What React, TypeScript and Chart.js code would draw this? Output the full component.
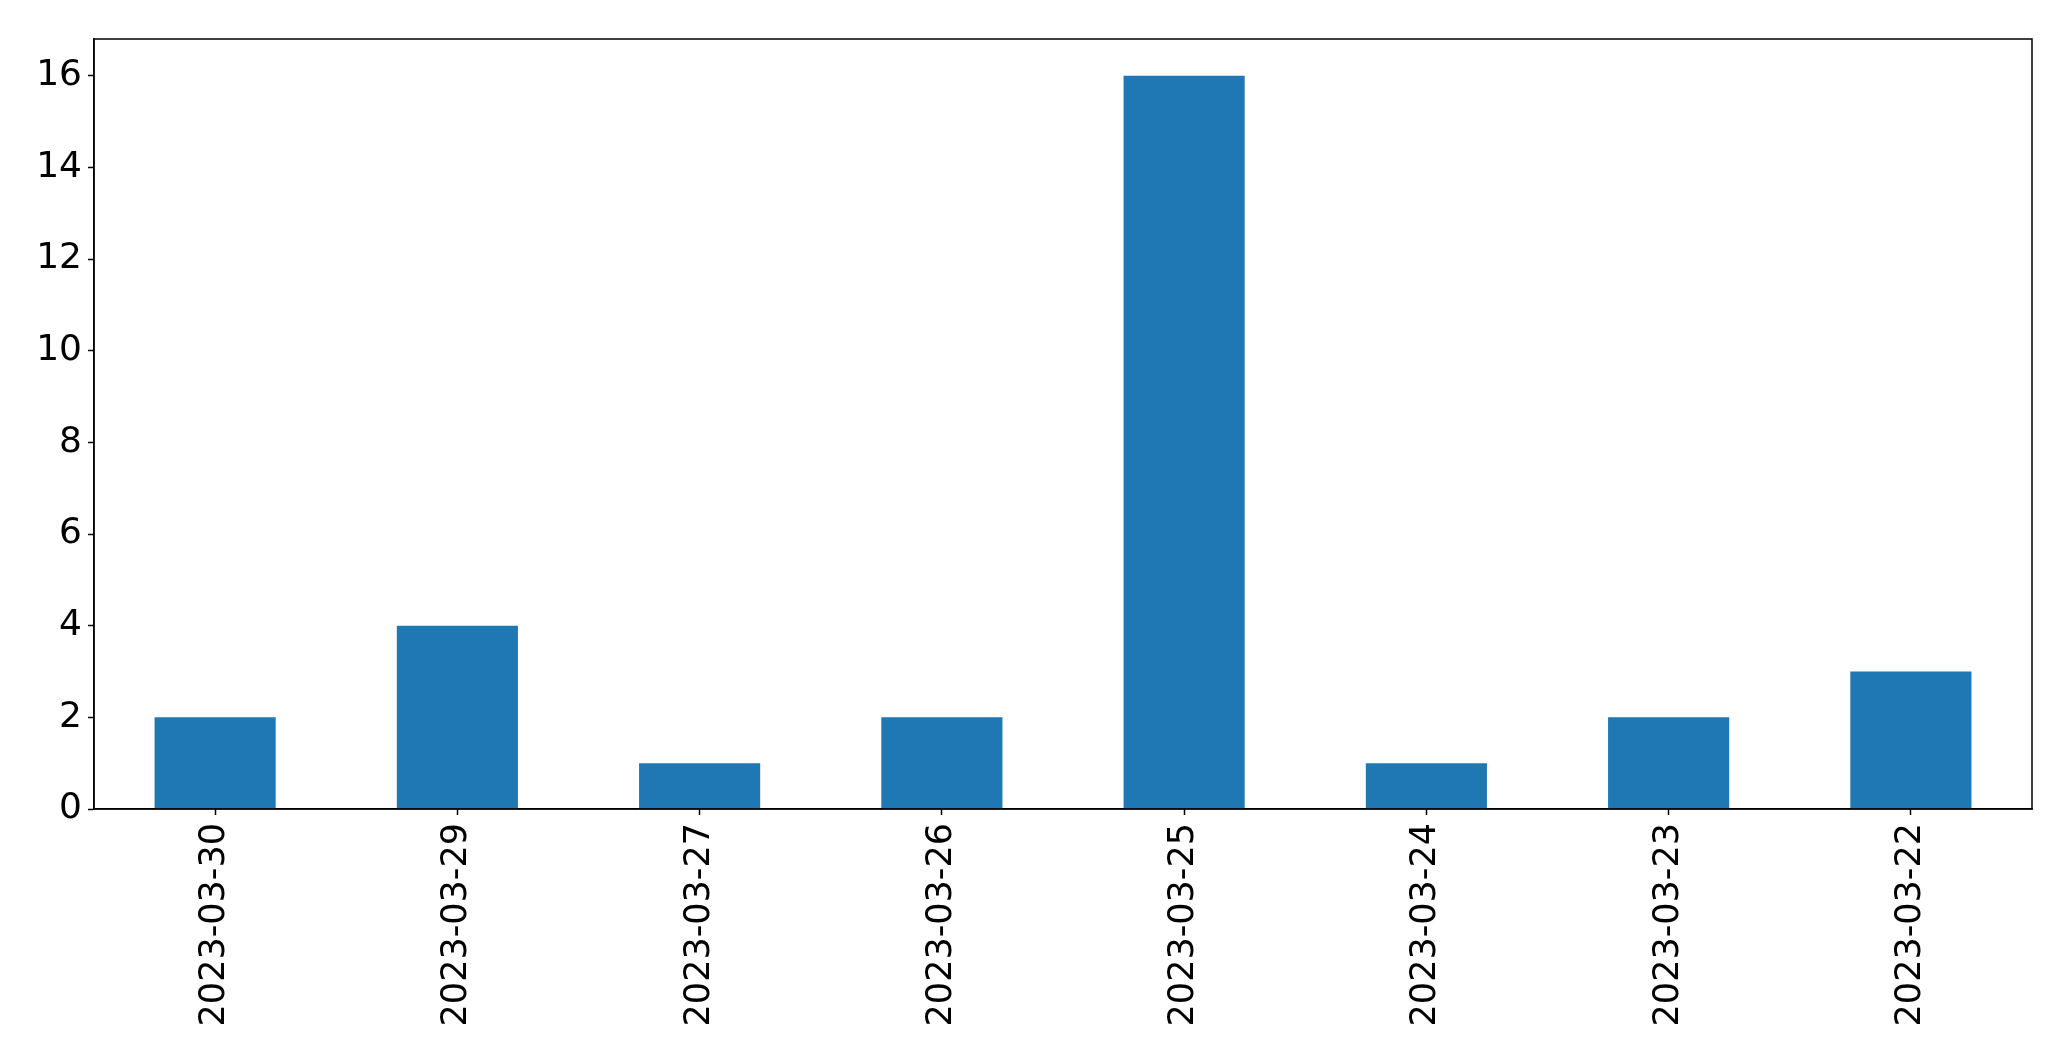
import React, { useEffect, useRef } from "react";
import { Chart, registerables } from "chart.js";

Chart.register(...registerables);

const categories: string[] = [
  "2023-03-30",
  "2023-03-29",
  "2023-03-27",
  "2023-03-26",
  "2023-03-25",
  "2023-03-24",
  "2023-03-23",
  "2023-03-22",
];
const counts: number[] = [2, 4, 1, 2, 16, 1, 2, 3];
const yTickStep = 2;
const yMax = 16.8;

const W = 2071;
const H = 1061;
const FONT = "'DejaVu Sans', sans-serif";

const frame = {
  id: "frame",
  afterDraw(chart: any) {
    const { ctx, chartArea } = chart;
    ctx.save();
    ctx.strokeStyle = "#000";
    ctx.lineWidth = 1.5;
    ctx.strokeRect(
      chartArea.left,
      chartArea.top,
      chartArea.right - chartArea.left,
      chartArea.bottom - chartArea.top
    );
    ctx.restore();
  },
};

export default function App() {
  const ref = useRef<HTMLCanvasElement | null>(null);
  useEffect(() => {
    if (!ref.current) return;
    const chart = new Chart(ref.current, {
      type: "bar",
      data: {
        labels: categories,
        datasets: [
          {
            data: counts,
            backgroundColor: "#1f77b4",
            borderWidth: 0,
            categoryPercentage: 1,
            barPercentage: 0.5,
          },
        ],
      },
      options: {
        animation: false,
        responsive: false,
        devicePixelRatio: 1,
        layout: { padding: { left: 0, top: 39, right: 39, bottom: 0 } },
        plugins: {
          legend: { display: false },
          tooltip: { enabled: false },
          title: { display: false },
        },
        scales: {
          x: {
            grid: {
              display: true,
              offset: false,
              drawOnChartArea: false,
              drawTicks: true,
              tickLength: 6,
              tickColor: "#000",
              tickWidth: 1.5,
            },
            border: { display: true, color: "#000", width: 1.5 },
            ticks: {
              color: "#000",
              font: { family: FONT, size: 35 },
              minRotation: 90,
              maxRotation: 90,
              padding: 8,
              autoSkip: false,
            },
            afterFit: (scale: any) => {
              scale.height = H - 809;
            },
          },
          y: {
            min: 0,
            max: yMax,
            grid: {
              display: true,
              drawOnChartArea: false,
              drawTicks: true,
              tickLength: 6,
              tickColor: "#000",
              tickWidth: 1.5,
            },
            border: { display: true, color: "#000", width: 1.5 },
            ticks: {
              stepSize: yTickStep,
              includeBounds: false,
              color: "#000",
              font: { family: FONT, size: 36 },
              padding: 6,
            },
            afterFit: (scale: any) => {
              scale.width = 94;
            },
          },
        },
      },
      plugins: [frame],
    });
    return () => chart.destroy();
  }, []);
  return (
    <div style={{ position: "absolute", left: 0, top: 0, width: W, height: H, background: "#fff" }}>
      <canvas ref={ref} width={W} height={H} style={{ display: "block", width: W, height: H }} />
    </div>
  );
}
